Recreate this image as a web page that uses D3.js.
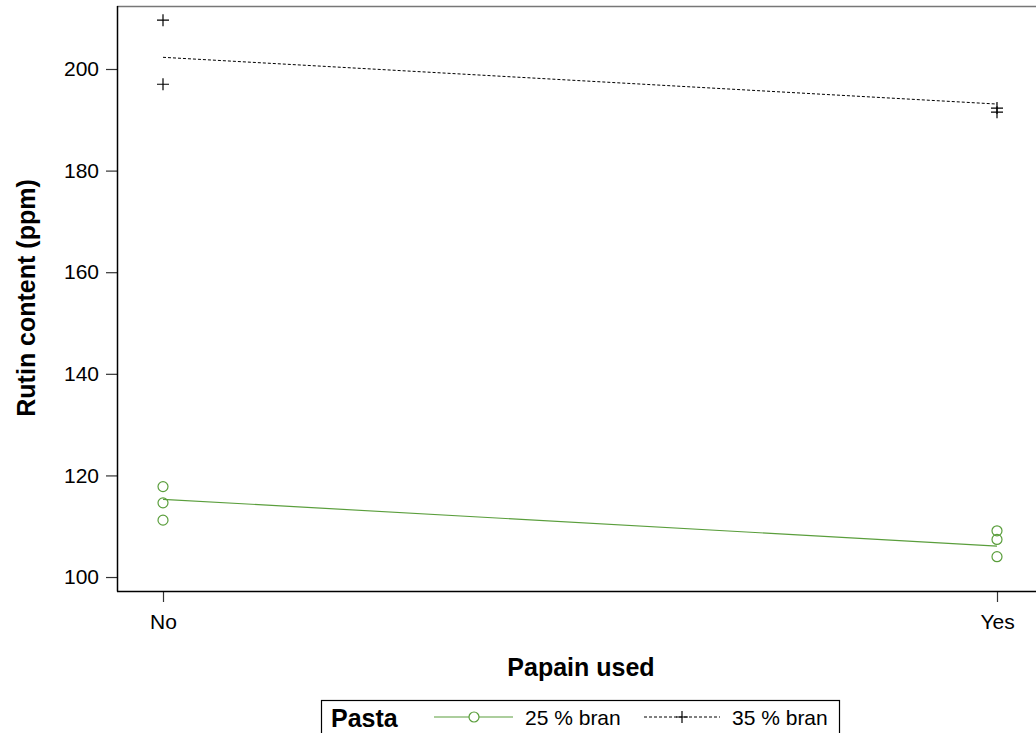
<!DOCTYPE html>
<html>
<head>
<meta charset="utf-8">
<script src="https://cdn.jsdelivr.net/npm/d3@7"></script>
<style>
  html, body { margin: 0; padding: 0; background: #fff; }
  svg { display: block; font-family: "Liberation Sans", Arial, sans-serif; }
</style>
</head>
<body>
<svg id="chart" width="1036" height="733"></svg>
<script>
    "use strict";

    // categories on the x axis
    var papain = ["No", "Yes"];
    var yTicks = [100, 120, 140, 160, 180, 200];

    // observed rutin values (ppm)
    var bran25No = [117.8, 114.6, 111.2];
    var bran25Yes = [109.1, 107.4, 104.0];
    var bran35No = [209.6, 197.0];
    var bran35Yes = [192.3, 191.5];

    // fitted lines
    var fit25 = [115.3, 106.1];
    var fit35 = [202.3, 193.1];

    var seriesNames = ["25 % bran", "35 % bran"];
    var green = "#5a9e3c";

    var svg = d3.select("#chart");
    var W = 1036;

    var x = d3.scalePoint().domain(papain).range([163, 997]);
    var y = d3.scaleLinear().domain([97.25, 212.4]).range([591, 6]);

    // frame: top line (gray), left axis, bottom axis
    svg.append("line")
        .attr("x1", 117).attr("x2", W + 5)
        .attr("y1", 6.5).attr("y2", 6.5)
        .attr("stroke", "#777").attr("stroke-width", 1.5);

    // y axis
    var gy = svg.append("g")
        .attr("transform", "translate(117,0)")
        .call(d3.axisLeft(y).tickValues(yTicks).tickSize(11).tickPadding(7).tickSizeOuter(0));
    gy.select(".domain").remove();
    gy.selectAll(".tick line").attr("stroke", "#333").attr("stroke-width", 1.2);
    gy.selectAll(".tick text").attr("font-size", 21).attr("fill", "#000")
        .attr("font-family", "Liberation Sans, Arial, sans-serif");

    // x axis
    var gx = svg.append("g")
        .attr("transform", "translate(0,591)")
        .call(d3.axisBottom(x).tickSize(11).tickPadding(12).tickSizeOuter(0));
    gx.select(".domain").remove();
    gx.selectAll(".tick line").attr("stroke", "#333").attr("stroke-width", 1.2);
    gx.selectAll(".tick text").attr("font-size", 21).attr("fill", "#000")
        .attr("font-family", "Liberation Sans, Arial, sans-serif");

    svg.append("line")
        .attr("x1", 117.5).attr("x2", 117.5)
        .attr("y1", 6).attr("y2", 591.5)
        .attr("stroke", "#000").attr("stroke-width", 1.5);
    svg.append("line")
        .attr("x1", 117).attr("x2", W + 5)
        .attr("y1", 591.5).attr("y2", 591.5)
        .attr("stroke", "#000").attr("stroke-width", 1.5);

    // axis titles
    svg.append("text")
        .attr("x", 581).attr("y", 676)
        .attr("text-anchor", "middle")
        .attr("font-size", 25).attr("font-weight", "bold")
        .text("Papain used");

    svg.append("text")
        .attr("transform", "translate(35,298) rotate(-90)")
        .attr("text-anchor", "middle")
        .attr("font-size", 25).attr("font-weight", "bold")
        .text("Rutin content (ppm)");

    // fitted lines
    var line = d3.line()
        .x(function(d) { return x(d.cat); })
        .y(function(d) { return y(d.v); });

    var toPts = function(vals) {
        return vals.map(function(v, i) { return { cat: papain[i], v: v }; });
    };

    svg.append("path")
        .attr("d", line(toPts(fit25)))
        .attr("fill", "none").attr("stroke", green).attr("stroke-width", 1.2);

    svg.append("path")
        .attr("d", line(toPts(fit35)))
        .attr("fill", "none").attr("stroke", "#000").attr("stroke-width", 1)
        .attr("stroke-dasharray", "3,2");

    // circle markers
    var circles = [];
    bran25No.forEach(function(v) { circles.push({ cat: "No", v: v }); });
    bran25Yes.forEach(function(v) { circles.push({ cat: "Yes", v: v }); });

    svg.selectAll("circle.obs").data(circles).enter()
        .append("circle").attr("class", "obs")
        .attr("cx", function(d) { return x(d.cat); })
        .attr("cy", function(d) { return y(d.v); })
        .attr("r", 5)
        .attr("fill", "none").attr("stroke", green).attr("stroke-width", 1.2);

    // plus markers
    var pluses = [];
    bran35No.forEach(function(v) { pluses.push({ cat: "No", v: v }); });
    bran35Yes.forEach(function(v) { pluses.push({ cat: "Yes", v: v }); });

    svg.selectAll("path.plus").data(pluses).enter()
        .append("path").attr("class", "plus")
        .attr("transform", function(d) { return "translate(" + x(d.cat) + "," + y(d.v) + ")"; })
        .attr("d", "M-6,0H6M0,-6V6")
        .attr("stroke", "#000").attr("stroke-width", 1.2);

    // legend
    var lg = svg.append("g");
    lg.append("rect")
        .attr("x", 321.5).attr("y", 700.5)
        .attr("width", 518).attr("height", 40)
        .attr("fill", "#fff").attr("stroke", "#000").attr("stroke-width", 1.2);
    lg.append("text")
        .attr("x", 331).attr("y", 727)
        .attr("font-size", 25).attr("font-weight", "bold")
        .text("Pasta");

    lg.append("line")
        .attr("x1", 434).attr("x2", 513).attr("y1", 717).attr("y2", 717)
        .attr("stroke", green).attr("stroke-width", 1.2);
    lg.append("circle")
        .attr("cx", 474).attr("cy", 717).attr("r", 5)
        .attr("fill", "#fff").attr("stroke", green).attr("stroke-width", 1.2);
    lg.append("text")
        .attr("x", 525).attr("y", 725)
        .attr("font-size", 21)
        .text(seriesNames[0]);

    lg.append("line")
        .attr("x1", 644).attr("x2", 720).attr("y1", 717).attr("y2", 717)
        .attr("stroke", "#000").attr("stroke-width", 1)
        .attr("stroke-dasharray", "3,2");
    lg.append("path")
        .attr("transform", "translate(682,717)")
        .attr("d", "M-6,0H6M0,-6V6")
        .attr("stroke", "#000").attr("stroke-width", 1.2);
    lg.append("text")
        .attr("x", 732).attr("y", 725)
        .attr("font-size", 21)
        .text(seriesNames[1]);
</script>
</body>
</html>
